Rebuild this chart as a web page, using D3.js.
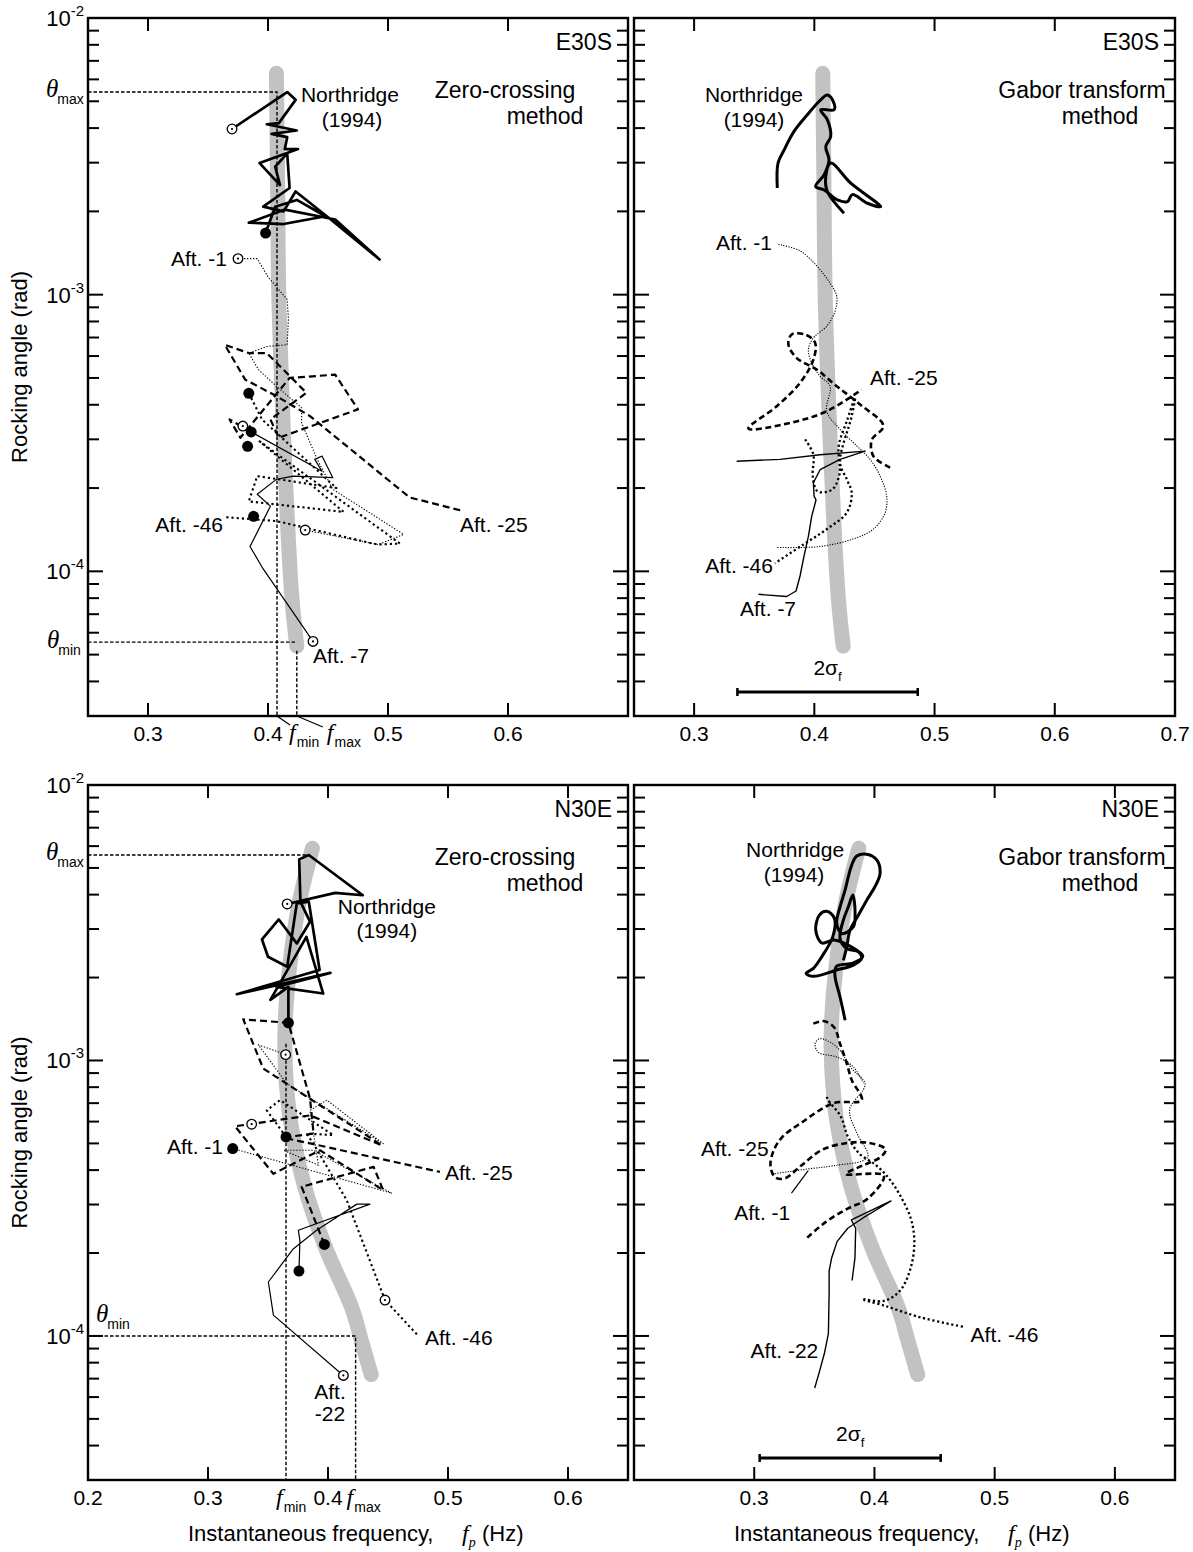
<!DOCTYPE html>
<html><head><meta charset="utf-8">
<script src="https://cdn.jsdelivr.net/npm/d3@7"></script>
<style>body{margin:0;background:#fff} text{font-family:"Liberation Sans",Arial,sans-serif;fill:#000}</style>
</head><body><svg id="c" width="1193" height="1552"></svg>
<script>
// ---------------- DATA ----------------
const yMajor = [1e-2, 1e-3, 1e-4];
const xLabelsTL = [0.3, 0.4, 0.5, 0.6];
const xLabelsTR = [0.3, 0.4, 0.5, 0.6, 0.7];
const xLabelsBL = [0.2, 0.3, 0.4, 0.5, 0.6];
const xLabelsBR = [0.3, 0.4, 0.5, 0.6];

// backbone bands (grey)
const bandTop = [[0.407,6.31e-3],[0.408,2.51e-3],[0.409,1.0e-3],[0.412,3.98e-4],[0.416,1.58e-4],[0.420,7.94e-5],[0.424,5.37e-5]];
const bandBottom = [[0.387,5.89e-3],[0.375,3.55e-3],[0.366,1.78e-3],[0.364,1.12e-3],[0.368,6.31e-4],[0.380,3.55e-4],[0.398,2.09e-4],[0.420,1.26e-4],[0.428,9.55e-5],[0.436,7.24e-5]];

// E30S zero-crossing
const tlNorthridge = [[0.370,3.97e-3],[0.416,5.40e-3],[0.423,5.06e-3],[0.409,4.17e-3],[0.399,4.13e-3],[0.424,3.92e-3],[0.403,3.81e-3],[0.416,3.71e-3],[0.414,3.36e-3],[0.425,3.36e-3],[0.393,2.99e-3],[0.410,2.49e-3],[0.406,2.90e-3],[0.416,3.24e-3],[0.418,2.43e-3],[0.396,2.08e-3],[0.413,2.00e-3],[0.423,2.36e-3],[0.449,1.92e-3],[0.493,1.34e-3],[0.456,1.87e-3],[0.414,2.03e-3],[0.384,1.82e-3],[0.413,1.80e-3],[0.448,1.92e-3],[0.424,2.20e-3],[0.406,2.08e-3],[0.398,1.67e-3]];
const tlAft1 = [[0.375,1.35e-3],[0.391,1.35e-3],[0.400,1.16e-3],[0.416,9.6e-4],[0.417,8.13e-4],[0.416,6.59e-4],[0.399,6.50e-4],[0.384,6.15e-4],[0.392,5.36e-4],[0.407,4.67e-4],[0.428,3.90e-4],[0.428,3.44e-4],[0.441,2.54e-4],[0.454,1.98e-4],[0.513,1.36e-4],[0.492,1.25e-4],[0.431,1.41e-4]];
const tlAft25 = [[0.386,3.19e-4],[0.368,3.54e-4],[0.377,3.04e-4],[0.418,5.00e-4],[0.456,5.14e-4],[0.475,3.85e-4],[0.409,3.04e-4],[0.402,3.54e-4],[0.432,4.42e-4],[0.399,6.15e-4],[0.384,6.15e-4],[0.364,6.59e-4],[0.381,4.93e-4],[0.407,4.30e-4],[0.435,3.64e-4],[0.518,1.85e-4],[0.563,1.65e-4]];
const tlAft46 = [[0.384,4.40e-4],[0.395,3.54e-4],[0.457,2.00e-4],[0.391,2.21e-4],[0.384,1.79e-4],[0.463,1.64e-4],[0.393,2.95e-4],[0.510,1.26e-4],[0.491,1.25e-4],[0.407,1.52e-4],[0.364,1.57e-4]];
const tlAft7 = [[0.386,3.19e-4],[0.445,2.30e-4],[0.439,2.54e-4],[0.445,2.61e-4],[0.454,2.18e-4],[0.421,2.21e-4],[0.407,2.15e-4],[0.391,1.90e-4],[0.402,1.72e-4],[0.385,1.23e-4],[0.396,1.02e-4],[0.4375,5.58e-5]];
const tlOpen = [[0.370,3.97e-3],[0.375,1.35e-3],[0.379,3.35e-4],[0.431,1.41e-4],[0.4375,5.58e-5]];
const tlFilled = [[0.398,1.67e-3],[0.384,4.40e-4],[0.386,3.19e-4],[0.383,2.83e-4],[0.388,1.58e-4]];
const tlTheta = [5.4e-3, 5.55e-5];   // theta max, theta min
const tlFreq = [0.4075, 0.424];      // f min, f max

// E30S Gabor
const trNorthridge = [[0.3692,2.43e-3],[0.3698,2.99e-3],[0.3748,3.33e-3],[0.3831,3.89e-3],[0.3942,4.47e-3],[0.4039,4.99e-3],[0.4108,5.27e-3],[0.4158,4.99e-3],[0.4164,4.66e-3],[0.4053,4.66e-3],[0.4108,4.29e-3],[0.4136,3.73e-3],[0.4095,3.43e-3],[0.4122,3.07e-3],[0.4081,2.71e-3],[0.4011,2.46e-3],[0.4081,2.39e-3],[0.4192,2.20e-3],[0.4275,2.17e-3],[0.4316,2.30e-3],[0.4441,2.14e-3],[0.4552,2.08e-3],[0.4303,2.53e-3],[0.4136,2.99e-3],[0.4095,2.67e-3],[0.4108,2.36e-3],[0.4247,1.97e-3]];
const trAft1 = [[0.3701,1.52e-3],[0.3881,1.44e-3],[0.4020,1.27e-3],[0.4131,1.10e-3],[0.4186,9.86e-4],[0.4172,8.71e-4],[0.4103,7.69e-4],[0.3992,6.98e-4],[0.3951,6.34e-4],[0.3978,5.66e-4],[0.4048,5.07e-4],[0.4131,4.67e-4],[0.4103,3.79e-4],[0.4214,3.26e-4],[0.4353,2.84e-4],[0.4464,2.54e-4],[0.4547,2.21e-4],[0.4602,1.87e-4],[0.4589,1.63e-4],[0.4491,1.42e-4],[0.4325,1.31e-4],[0.4048,1.23e-4],[0.3687,1.22e-4]];
const trAft25 = [[0.4630,2.37e-4],[0.4491,2.61e-4],[0.4478,2.99e-4],[0.4575,3.35e-4],[0.4381,4.01e-4],[0.4186,4.67e-4],[0.4020,5.36e-4],[0.3854,5.90e-4],[0.3784,6.61e-4],[0.3812,7.18e-4],[0.3923,7.18e-4],[0.4006,6.70e-4],[0.3992,5.82e-4],[0.3881,4.80e-4],[0.3687,3.95e-4],[0.3452,3.28e-4],[0.3798,3.44e-4],[0.4103,3.79e-4],[0.4394,4.54e-4]];
const trAft46 = [[0.3923,3.00e-4],[0.3992,2.64e-4],[0.3987,2.21e-4],[0.4026,1.95e-4],[0.4145,1.97e-4],[0.4209,2.24e-4],[0.4203,2.84e-4],[0.4270,3.49e-4],[0.4339,4.24e-4],[0.4311,3.64e-4],[0.4214,2.47e-4],[0.4270,2.15e-4],[0.4311,1.92e-4],[0.4270,1.63e-4],[0.4103,1.42e-4],[0.3909,1.25e-4],[0.3673,1.07e-4]];
const trAft7 = [[0.3354,2.50e-4],[0.3715,2.54e-4],[0.4048,2.64e-4],[0.4422,2.72e-4],[0.4214,2.54e-4],[0.4048,2.33e-4],[0.3992,2.09e-4],[0.3998,1.87e-4],[0.4014,1.81e-4],[0.3978,1.58e-4],[0.3951,1.34e-4],[0.3915,1.14e-4],[0.3881,9.62e-5],[0.3848,8.49e-5],[0.3770,8.11e-5],[0.3535,8.26e-5]];
const trSigma = [0.336, 0.486];

// N30E zero-crossing
const blNorthridge = [[0.366,3.70e-3],[0.406,4.06e-3],[0.429,3.98e-3],[0.384,5.57e-3],[0.376,5.37e-3],[0.377,3.77e-3],[0.385,3.19e-3],[0.374,2.66e-3],[0.359,3.25e-3],[0.345,2.75e-3],[0.350,2.38e-3],[0.366,2.19e-3],[0.374,3.72e-3],[0.384,3.77e-3],[0.393,2.13e-3],[0.324,1.74e-3],[0.402,2.08e-3],[0.357,1.85e-3],[0.396,1.75e-3],[0.382,2.81e-3],[0.352,1.66e-3],[0.367,1.85e-3],[0.367,1.37e-3]];
const blAft1 = [[0.3206,4.79e-4],[0.453,3.30e-4],[0.3878,4.72e-4],[0.3628,4.72e-4],[0.392,4.17e-4],[0.385,6.59e-4],[0.399,7.18e-4],[0.446,4.99e-4],[0.3656,8.24e-4],[0.342,1.14e-3],[0.3647,1.05e-3]];
const blAft25 = [[0.397,2.15e-4],[0.378,3.48e-4],[0.438,4.11e-4],[0.446,3.38e-4],[0.3933,4.72e-4],[0.3544,3.88e-4],[0.3225,5.77e-4],[0.385,6.32e-4],[0.445,4.92e-4],[0.346,9.35e-4],[0.3294,1.41e-3],[0.367,1.37e-3],[0.385,7.28e-4],[0.388,5.43e-4],[0.3628,5.25e-4],[0.4933,3.94e-4]];
const blAft46 = [[0.365,5.28e-4],[0.349,6.59e-4],[0.360,7.18e-4],[0.4044,5.36e-4],[0.3822,5.43e-4],[0.3878,4.99e-4],[0.4156,3.11e-4],[0.4475,1.35e-4],[0.4753,1.00e-4]];
const blAft22 = [[0.3758,1.72e-4],[0.3766,2.22e-4],[0.3753,2.42e-4],[0.435,3.01e-4],[0.424,3.01e-4],[0.3905,2.42e-4],[0.371,2.07e-4],[0.3503,1.57e-4],[0.3545,1.19e-4],[0.4128,7.19e-5]];
const blOpen = [[0.366,3.70e-3],[0.3647,1.05e-3],[0.3364,5.87e-4],[0.4475,1.35e-4],[0.4128,7.19e-5]];
const blFilled = [[0.367,1.37e-3],[0.365,5.28e-4],[0.3206,4.79e-4],[0.397,2.15e-4],[0.3758,1.72e-4]];
const blTheta = [5.57e-3, 1.0e-4];
const blFreq = [0.365, 0.423];
const blFminStart = 1.15e-3;

// N30E Gabor
const brNorthridge = [[0.3756,1.40e-3],[0.3714,1.70e-3],[0.3673,2.01e-3],[0.3681,2.19e-3],[0.3825,2.26e-3],[0.3903,2.39e-3],[0.3783,2.62e-3],[0.3664,2.74e-3],[0.3562,2.67e-3],[0.3512,2.97e-3],[0.3542,3.37e-3],[0.3603,3.48e-3],[0.3667,3.28e-3],[0.3653,2.81e-3],[0.3562,2.38e-3],[0.3492,2.16e-3],[0.3431,2.07e-3],[0.3492,2.02e-3],[0.3686,2.13e-3],[0.3825,2.22e-3],[0.3894,2.35e-3],[0.3867,2.48e-3],[0.3770,2.55e-3],[0.3714,2.77e-3],[0.3742,3.24e-3],[0.3783,3.61e-3],[0.3820,3.99e-3],[0.3839,3.42e-3],[0.3825,3.06e-3],[0.3728,2.89e-3],[0.3686,3.15e-3],[0.3714,3.61e-3],[0.3756,4.16e-3],[0.3783,4.65e-3],[0.3811,5.12e-3],[0.3853,5.52e-3],[0.3936,5.61e-3],[0.4019,5.35e-3],[0.4047,4.78e-3],[0.4005,4.28e-3],[0.3936,3.82e-3],[0.3867,3.37e-3],[0.3797,2.97e-3],[0.3770,2.59e-3],[0.3742,2.31e-3]];
const brAft25 = [[0.3492,1.36e-3],[0.3575,1.39e-3],[0.3664,1.32e-3],[0.3714,1.15e-3],[0.3770,9.75e-4],[0.3811,8.49e-4],[0.3894,7.18e-4],[0.3659,7.00e-4],[0.3389,5.93e-4],[0.3240,5.31e-4],[0.3165,4.75e-4],[0.3135,4.15e-4],[0.3174,3.77e-4],[0.3254,3.73e-4],[0.3389,4.15e-4],[0.3569,4.75e-4],[0.3778,5.02e-4],[0.3958,5.02e-4],[0.4093,4.75e-4],[0.4048,4.45e-4],[0.3898,4.15e-4],[0.3763,3.87e-4],[0.4078,3.82e-4],[0.3943,3.15e-4],[0.3778,2.90e-4],[0.3599,2.60e-4],[0.3434,2.26e-4]];
const brAft1 = [[0.315,3.87e-4],[0.3449,4.04e-4],[0.3659,4.15e-4],[0.3943,4.45e-4],[0.3853,5.46e-4],[0.3793,6.62e-4],[0.3922,8.20e-4],[0.3811,9.35e-4],[0.3686,1.12e-3],[0.3548,1.20e-3],[0.3506,1.15e-3],[0.3534,1.07e-3],[0.3686,1.03e-3],[0.3825,9.48e-4],[0.3908,8.26e-4]];
const brAft46 = [[0.3603,7.38e-4],[0.3614,7.19e-4],[0.3719,6.27e-4],[0.3778,5.31e-4],[0.3868,4.62e-4],[0.4018,4.15e-4],[0.4123,3.72e-4],[0.4213,3.24e-4],[0.4302,2.67e-4],[0.4332,2.20e-4],[0.4302,1.77e-4],[0.4213,1.46e-4],[0.4078,1.34e-4],[0.3898,1.36e-4],[0.4078,1.29e-4],[0.4377,1.17e-4],[0.4737,1.08e-4]];
const brAft22 = [[0.3814,1.59e-4],[0.3838,1.92e-4],[0.3844,2.46e-4],[0.3808,2.64e-4],[0.4138,3.09e-4],[0.3898,2.67e-4],[0.3778,2.46e-4],[0.3689,2.20e-4],[0.3644,1.92e-4],[0.3623,1.72e-4],[0.3623,1.42e-4],[0.3617,1.02e-4],[0.3584,8.65e-5],[0.3539,7.33e-5],[0.3503,6.47e-5]];
const brLeader1 = [[0.331,3.30e-4],[0.3449,3.98e-4]];
const brSigma = [0.3045, 0.4551];

// ---------------- LAYOUT ----------------
const W = 1193, H = 1552;
const yDomain = [3e-5, 1e-2];
const SERIF = '"Liberation Serif", "Times New Roman", serif';
const svg = d3.select('#c');
svg.append('rect').attr('width', W).attr('height', H).attr('fill', '#fff');

const layout = {
  tl: {x0: 88, x1: 628, y0: 18, y1: 716, fdom: [0.25, 0.70], labels: xLabelsTL, yLabels: true},
  tr: {x0: 634, x1: 1175, y0: 18, y1: 716, fdom: [0.25, 0.70], labels: xLabelsTR, yLabels: false},
  bl: {x0: 88, x1: 628, y0: 785, y1: 1480, fdom: [0.2, 0.65], labels: xLabelsBL, yLabels: true},
  br: {x0: 634, x1: 1175, y0: 785, y1: 1480, fdom: [0.2, 0.65], labels: xLabelsBR, yLabels: false}
};

const styles = {
  nr:   {w: 2.7, d: null},
  a1:   {w: 1.1, d: '1.3,1.7'},
  a25:  {w: 2.2, d: '7,4'},
  a46:  {w: 2.1, d: '2.2,3'},
  thin: {w: 1.2, d: null},
  nrG:  {w: 3.0, d: null},
  a1G:  {w: 1.1, d: '1.2,1.4'},
  a25G: {w: 2.6, d: '6,3.5'},
  a46G: {w: 2.3, d: '2.2,2.6'},
  thinG:{w: 1.4, d: null}
};

function panel(key) {
  const p = layout[key];
  const x = d3.scaleLinear().domain(p.fdom).range([p.x0, p.x1]);
  const y = d3.scaleLog().domain(yDomain).range([p.y1, p.y0]);
  const g = svg.append('g');
  return {p, x, y, g};
}

function band(P, data) {
  const line = d3.line().x(d => P.x(d[0])).y(d => P.y(d[1])).curve(d3.curveCatmullRom.alpha(0.5));
  P.g.append('path').attr('d', line(data)).attr('fill', 'none')
    .attr('stroke', '#c2c2c2').attr('stroke-width', 15).attr('stroke-linecap', 'round');
}

function series(P, data, st, smooth) {
  const line = d3.line().x(d => P.x(d[0])).y(d => P.y(d[1]));
  if (smooth) line.curve(d3.curveCatmullRom.alpha(0.5));
  const s = styles[st];
  const path = P.g.append('path').attr('d', line(data)).attr('fill', 'none')
    .attr('stroke', '#000').attr('stroke-width', s.w).attr('stroke-linejoin', 'round');
  if (s.d) path.attr('stroke-dasharray', s.d);
}

function refLine(P, pts) {
  const line = d3.line().x(d => P.x(d[0])).y(d => P.y(d[1]));
  P.g.append('path').attr('d', line(pts)).attr('fill', 'none')
    .attr('stroke', '#000').attr('stroke-width', 1.4).attr('stroke-dasharray', '3.5,2');
}

function markers(P, open, filled) {
  P.g.selectAll(null).data(filled).enter().append('circle')
    .attr('cx', d => P.x(d[0])).attr('cy', d => P.y(d[1])).attr('r', 5.5).attr('fill', '#000');
  P.g.selectAll(null).data(open).enter().append('circle')
    .attr('cx', d => P.x(d[0])).attr('cy', d => P.y(d[1])).attr('r', 4.8)
    .attr('fill', '#fff').attr('stroke', '#000').attr('stroke-width', 1.3);
  P.g.selectAll(null).data(open).enter().append('circle')
    .attr('cx', d => P.x(d[0])).attr('cy', d => P.y(d[1])).attr('r', 1.1).attr('fill', '#000');
}

function label(P, t, f, v, anchor, size) {
  P.g.append('text').attr('x', P.x(f)).attr('y', P.y(v)).attr('text-anchor', anchor)
    .style('font-size', (size || 21) + 'px').text(t);
}

function frame(P) {
  const {p, x, y, g} = P;
  const xt = [0.2, 0.3, 0.4, 0.5, 0.6, 0.7].filter(v => v > p.fdom[0] + 1e-9 && v < p.fdom[1] - 1e-9);
  g.selectAll(null).data(xt).enter().append('line')
    .attr('x1', d => x(d)).attr('x2', d => x(d)).attr('y1', p.y1).attr('y2', p.y1 - 13)
    .attr('stroke', '#000').attr('stroke-width', 2);
  g.selectAll(null).data(xt).enter().append('line')
    .attr('x1', d => x(d)).attr('x2', d => x(d)).attr('y1', p.y0).attr('y2', p.y0 + 13)
    .attr('stroke', '#000').attr('stroke-width', 2);
  const yt = y.ticks().filter(v => v > yDomain[0] * 1.001 && v < yDomain[1] * 0.999);
  const isMajor = v => Math.abs(Math.log10(v) - Math.round(Math.log10(v))) < 1e-6;
  g.selectAll(null).data(yt).enter().append('line')
    .attr('x1', p.x0).attr('x2', d => p.x0 + (isMajor(d) ? 15 : 11))
    .attr('y1', d => y(d)).attr('y2', d => y(d)).attr('stroke', '#000').attr('stroke-width', 2);
  g.selectAll(null).data(yt).enter().append('line')
    .attr('x1', p.x1).attr('x2', d => p.x1 - (isMajor(d) ? 15 : 11))
    .attr('y1', d => y(d)).attr('y2', d => y(d)).attr('stroke', '#000').attr('stroke-width', 2);
  g.append('rect').attr('x', p.x0).attr('y', p.y0).attr('width', p.x1 - p.x0).attr('height', p.y1 - p.y0)
    .attr('fill', 'none').attr('stroke', '#000').attr('stroke-width', 2.4);
  g.selectAll(null).data(p.labels).enter().append('text')
    .attr('x', d => x(d)).attr('y', p.y1 + 25).attr('text-anchor', 'middle')
    .style('font-size', '21px').text(d => d3.format('.1f')(d));
  if (p.yLabels) {
    yMajor.forEach(v => {
      const t = g.append('text').attr('x', p.x0 - 4).attr('y', y(v) + 8).attr('text-anchor', 'end')
        .style('font-size', '22px');
      t.append('tspan').text('10');
      t.append('tspan').attr('dy', -10).style('font-size', '15px').text(String(Math.round(Math.log10(v))));
    });
    g.append('text').attr('transform', `translate(27,${(p.y0 + p.y1) / 2}) rotate(-90)`)
      .attr('text-anchor', 'middle').style('font-size', '22px').text('Rocking angle (rad)');
  }
}

function titles(P, dir, m1, m2, c1, c2) {
  const {p, g} = P;
  g.append('text').attr('x', p.x1 - 16).attr('y', p.y0 + 32).attr('text-anchor', 'end').style('font-size', '23px').text(dir);
  g.append('text').attr('x', p.x0 + c1).attr('y', p.y0 + 80).attr('text-anchor', 'middle').style('font-size', '23px').text(m1);
  g.append('text').attr('x', p.x0 + c2).attr('y', p.y0 + 106).attr('text-anchor', 'middle').style('font-size', '23px').text(m2);
}

function thetaLabel(P, xPos, yPos, sub) {
  const t = P.g.append('text').attr('x', xPos).attr('y', yPos);
  t.append('tspan').style('font-family', SERIF).style('font-style', 'italic').style('font-size', '25px').text('θ');
  t.append('tspan').attr('dx', -1).attr('dy', 7).style('font-size', '14px').text(sub);
}

function fLabel(P, xPos, yPos, sub) {
  const t = P.g.append('text').attr('x', xPos).attr('y', yPos);
  t.append('tspan').style('font-family', SERIF).style('font-style', 'italic').style('font-size', '24px').text('f');
  t.append('tspan').attr('dx', 1).attr('dy', 7).style('font-size', '14px').text(sub);
}

function sigmaBar(P, fr, yPix) {
  const {x, g} = P;
  g.append('line').attr('x1', x(fr[0])).attr('x2', x(fr[1])).attr('y1', yPix).attr('y2', yPix)
    .attr('stroke', '#000').attr('stroke-width', 3);
  fr.forEach(f => g.append('line').attr('x1', x(f)).attr('x2', x(f)).attr('y1', yPix - 4).attr('y2', yPix + 4)
    .attr('stroke', '#000').attr('stroke-width', 2.5));
  const t = g.append('text').attr('x', x((fr[0] + fr[1]) / 2)).attr('y', yPix - 17).attr('text-anchor', 'middle');
  t.append('tspan').style('font-size', '21px').text('2σ');
  t.append('tspan').attr('dy', 6).style('font-size', '13px').text('f');
}

function xTitle(P) {
  const {p, g} = P;
  const yb = 1541;
  g.append('text').attr('x', p.x0 + 100).attr('y', yb).style('font-size', '22px').text('Instantaneous frequency,');
  const t = g.append('text').attr('x', p.x0 + 374).attr('y', yb);
  t.append('tspan').style('font-family', SERIF).style('font-style', 'italic').style('font-size', '24px').text('f');
  t.append('tspan').attr('dy', 6).style('font-family', SERIF).style('font-style', 'italic').style('font-size', '14px').text('p');
  g.append('text').attr('x', p.x0 + 394).attr('y', yb).style('font-size', '22px').text('(Hz)');
}

// ---------------- TOP LEFT ----------------
const TL = panel('tl');
band(TL, bandTop);
refLine(TL, [[0.25, tlTheta[0]], [tlFreq[0], tlTheta[0]], [tlFreq[0], yDomain[0]]]);
refLine(TL, [[0.25, tlTheta[1]], [tlFreq[1], tlTheta[1]]]);
refLine(TL, [[tlFreq[1], tlTheta[1] * 0.93], [tlFreq[1], yDomain[0]]]);
series(TL, tlAft1, 'a1');
series(TL, tlAft46, 'a46');
series(TL, tlAft25, 'a25');
series(TL, tlAft7, 'thin');
series(TL, tlNorthridge, 'nr');
markers(TL, tlOpen, tlFilled);
frame(TL);
titles(TL, 'E30S', 'Zero-crossing', 'method', 417, 457);
label(TL, 'Northridge', 0.4683, 4.98e-3, 'middle');
label(TL, '(1994)', 0.47, 4.04e-3, 'middle');
label(TL, 'Aft. -1', 0.3658, 1.27e-3, 'end');
label(TL, 'Aft. -46', 0.3625, 1.39e-4, 'end');
label(TL, 'Aft. -25', 0.56, 1.39e-4, 'start');
label(TL, 'Aft. -7', 0.4375, 4.66e-5, 'start');
thetaLabel(TL, 46, TL.y(tlTheta[0]) + 5, 'max');
thetaLabel(TL, 47, TL.y(tlTheta[1]) + 6, 'min');
TL.g.append('line').attr('x1', TL.x(tlFreq[0])).attr('y1', TL.p.y1).attr('x2', TL.x(tlFreq[0]) + 13).attr('y2', TL.p.y1 + 9)
  .attr('stroke', '#000').attr('stroke-width', 1.2);
TL.g.append('line').attr('x1', TL.x(tlFreq[1])).attr('y1', TL.p.y1).attr('x2', TL.x(tlFreq[1]) + 26).attr('y2', TL.p.y1 + 11)
  .attr('stroke', '#000').attr('stroke-width', 1.2);
fLabel(TL, TL.x(tlFreq[0]) + 12, TL.p.y1 + 24, 'min');
fLabel(TL, TL.x(tlFreq[1]) + 30, TL.p.y1 + 24, 'max');

// ---------------- TOP RIGHT ----------------
const TR = panel('tr');
band(TR, bandTop);
series(TR, trAft1, 'a1G', true);
series(TR, trAft46, 'a46G', true);
series(TR, trAft25, 'a25G', true);
series(TR, trAft7, 'thinG');
series(TR, trNorthridge, 'nrG', true);
frame(TR);
titles(TR, 'E30S', 'Gabor transform', 'method', 448, 466);
label(TR, 'Northridge', 0.3498, 4.98e-3, 'middle');
label(TR, '(1994)', 0.3498, 4.04e-3, 'middle');
label(TR, 'Aft. -1', 0.3648, 1.45e-3, 'end');
label(TR, 'Aft. -25', 0.4463, 4.73e-4, 'start');
label(TR, 'Aft. -46', 0.3656, 9.84e-5, 'end');
label(TR, 'Aft. -7', 0.3382, 6.89e-5, 'start');
sigmaBar(TR, trSigma, TR.p.y1 - 24);

// ---------------- BOTTOM LEFT ----------------
const BL = panel('bl');
band(BL, bandBottom);
refLine(BL, [[0.2, blTheta[0]], [0.383, blTheta[0]]]);
refLine(BL, [[blFreq[0], blFminStart], [blFreq[0], yDomain[0]]]);
refLine(BL, [[0.2, blTheta[1]], [blFreq[1], blTheta[1]], [blFreq[1], yDomain[0]]]);
series(BL, blAft1, 'a1');
series(BL, blAft46, 'a46');
series(BL, blAft25, 'a25');
series(BL, blAft22, 'thin');
series(BL, blNorthridge, 'nr');
markers(BL, blOpen, blFilled);
frame(BL);
titles(BL, 'N30E', 'Zero-crossing', 'method', 417, 457);
label(BL, 'Northridge', 0.449, 3.40e-3, 'middle');
label(BL, '(1994)', 0.449, 2.78e-3, 'middle');
label(BL, 'Aft. -1', 0.3125, 4.57e-4, 'end');
label(BL, 'Aft. -25', 0.4975, 3.67e-4, 'start');
label(BL, 'Aft. -46', 0.4808, 9.25e-5, 'start');
label(BL, 'Aft.', 0.4017, 5.89e-5, 'middle');
label(BL, '-22', 0.4017, 4.90e-5, 'middle');
thetaLabel(BL, 46, BL.y(blTheta[0]) + 5, 'max');
thetaLabel(BL, 96, BL.y(blTheta[1]) - 14, 'min');
fLabel(BL, BL.x(blFreq[0]) - 10, BL.p.y1 + 25, 'min');
fLabel(BL, BL.x(blFreq[1]) - 9, BL.p.y1 + 25, 'max');
xTitle(BL);

// ---------------- BOTTOM RIGHT ----------------
const BR = panel('br');
band(BR, bandBottom);
series(BR, brAft1, 'a1G', true);
series(BR, brAft46, 'a46G', true);
series(BR, brAft25, 'a25G', true);
series(BR, brAft22, 'thinG');
series(BR, brNorthridge, 'nrG', true);
series(BR, brLeader1, 'thin');
frame(BR);
titles(BR, 'N30E', 'Gabor transform', 'method', 448, 466);
label(BR, 'Northridge', 0.334, 5.48e-3, 'middle');
label(BR, '(1994)', 0.3331, 4.45e-3, 'middle');
label(BR, 'Aft. -25', 0.312, 4.51e-4, 'end');
label(BR, 'Aft. -1', 0.330, 2.64e-4, 'end');
label(BR, 'Aft. -22', 0.3533, 8.3e-5, 'end');
label(BR, 'Aft. -46', 0.48, 9.5e-5, 'start');
sigmaBar(BR, brSigma, BR.p.y1 - 22);
xTitle(BR);
</script></body></html>
